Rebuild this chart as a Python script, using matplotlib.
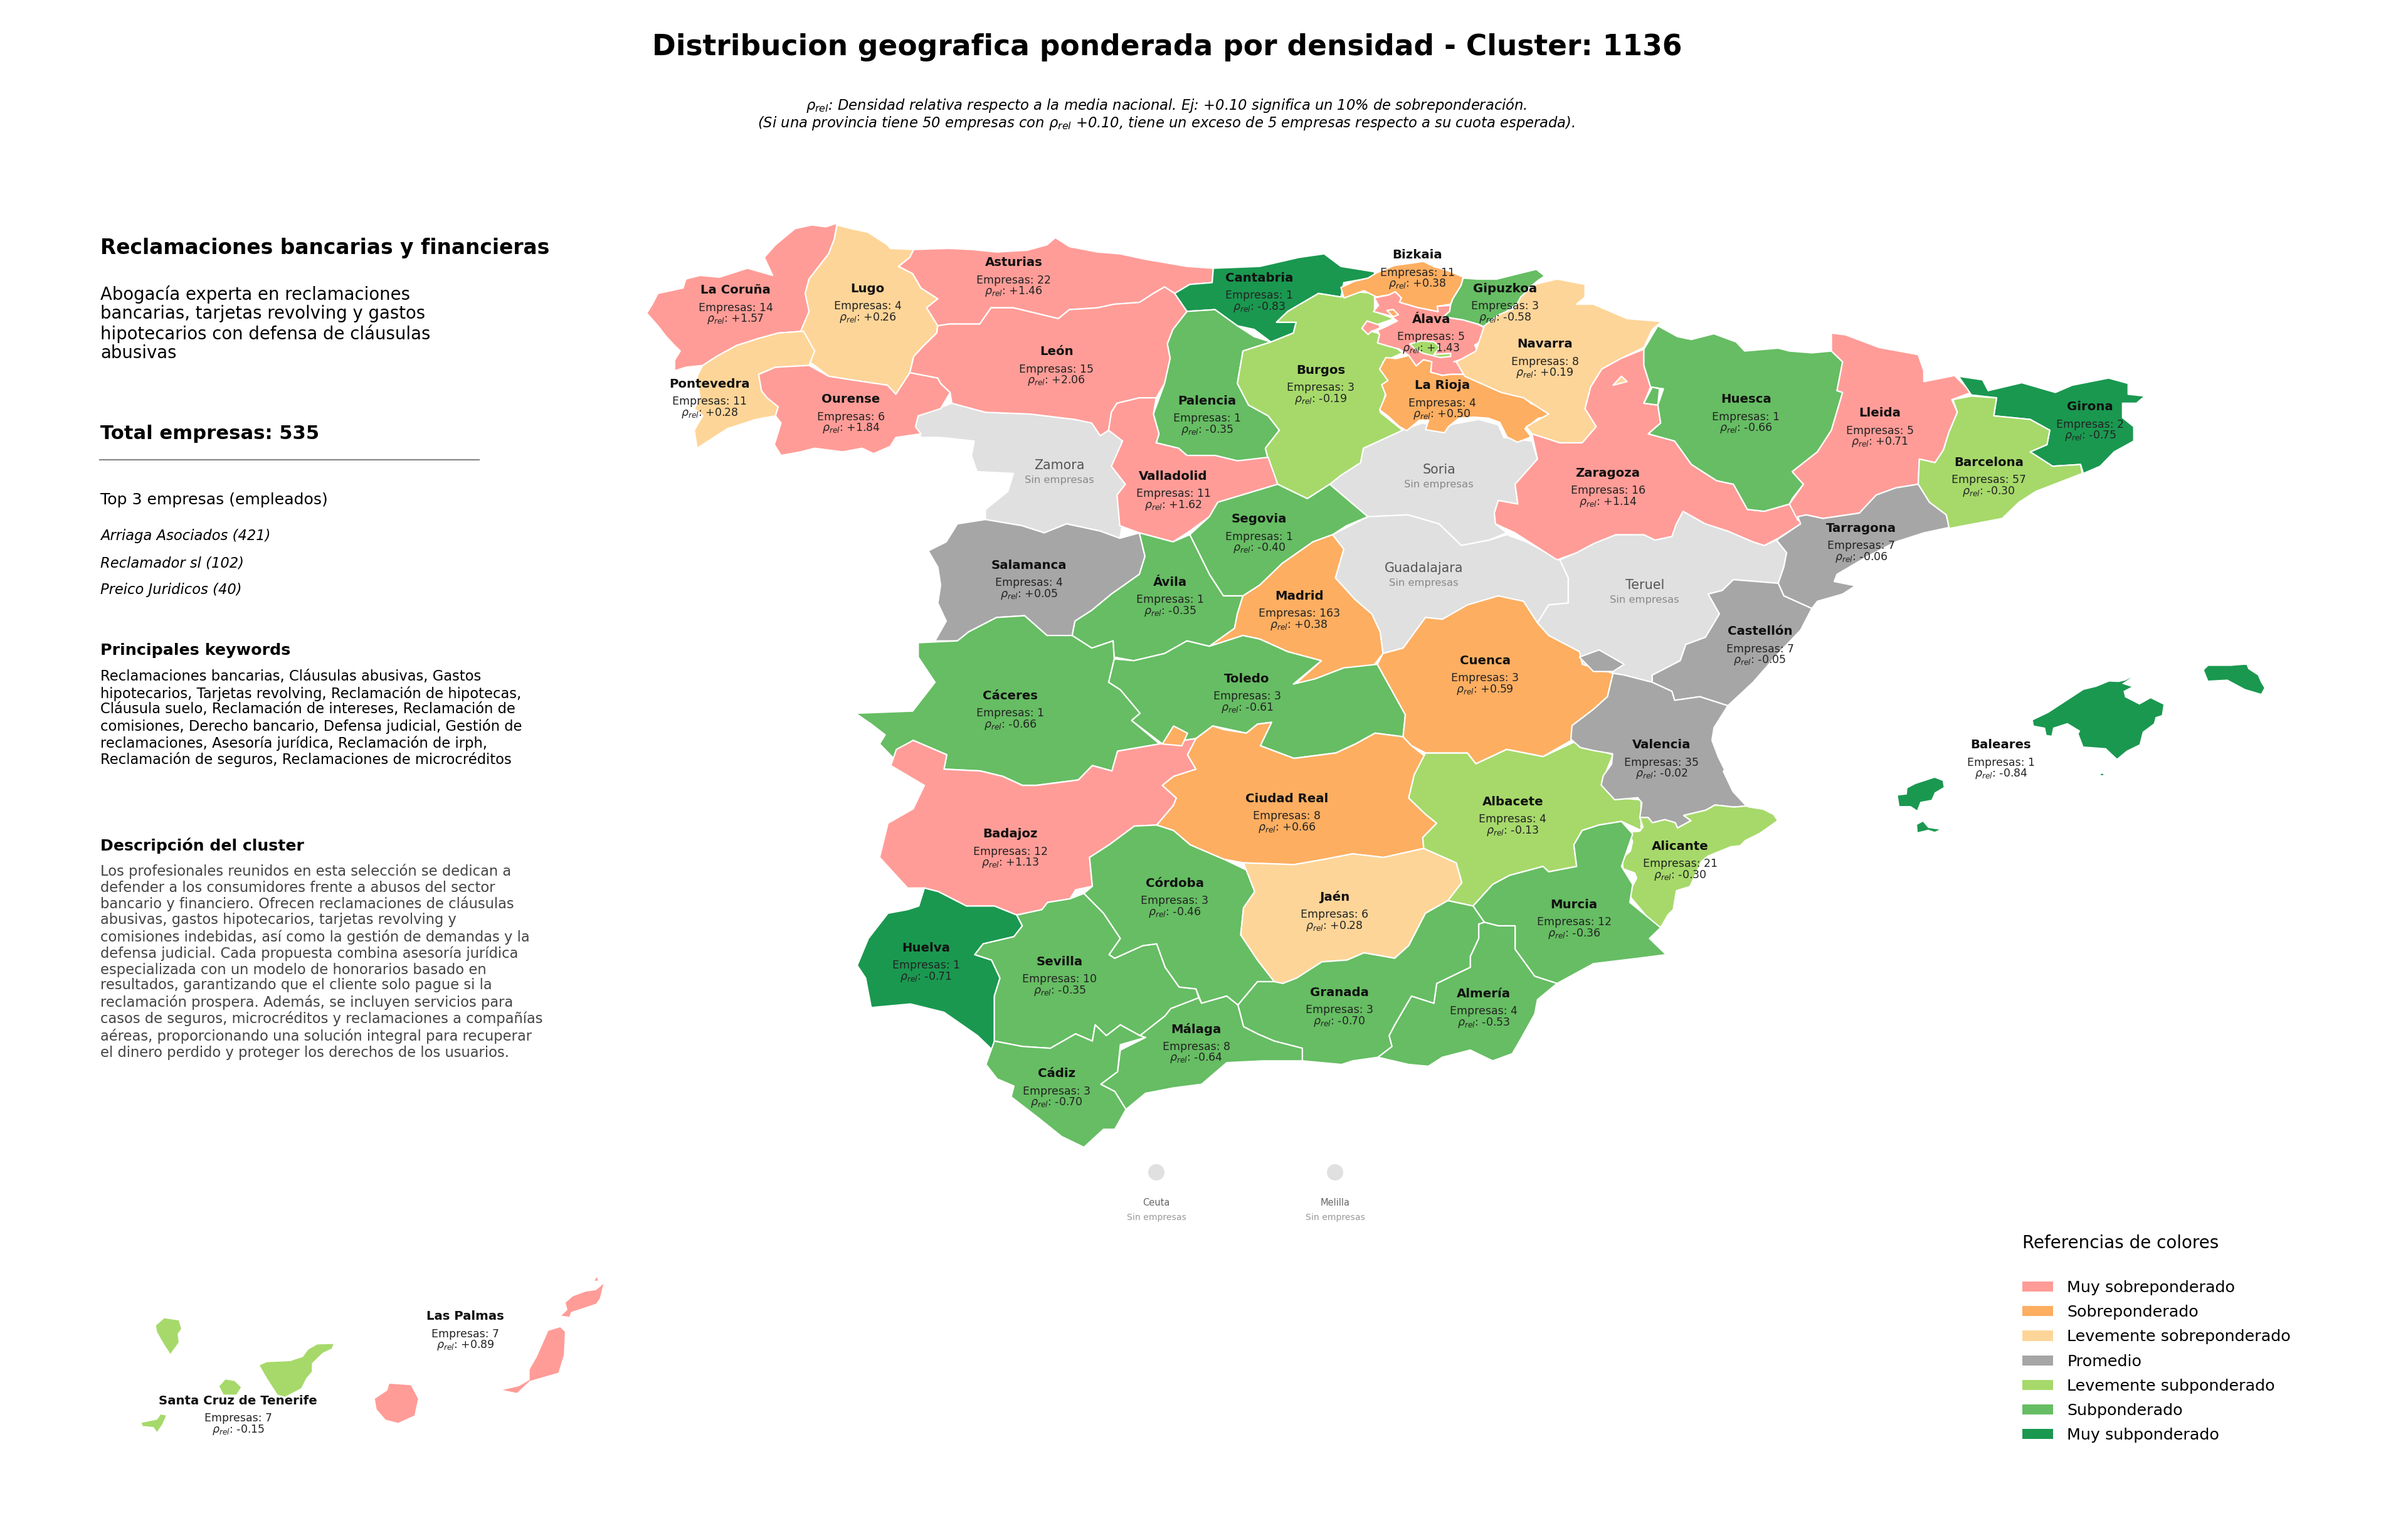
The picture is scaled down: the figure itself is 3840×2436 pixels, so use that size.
import matplotlib
matplotlib.use("Agg")
import matplotlib.pyplot as plt
from matplotlib.patches import Polygon, Patch, Circle

# ---- frames used to read outlines off the picture (to full-image pixels)
def A(p): return [(1000 + x / 1.12, 330 + y / 1.742) for x, y in p]
def B(p): return [(2300 + x / 1.12, 330 + y / 1.742) for x, y in p]
def C(p): return [(1300 + x / 1.12, 1100 + y / 1.742) for x, y in p]
def D(p): return [(2950 + x / 1.96, 1000 + y / 3) for x, y in p]
def E(p): return [(150 + x / 1.742, 2000 + y / 3) for x, y in p]
def F(p): return [(2500 + x / 3, 1130 + y / 3) for x, y in p]
def G(p): return [(2100 + x / 3, 380 + y / 3) for x, y in p]

# ---- colours
CATEGORY_LABELS = ["Muy sobreponderado", "Sobreponderado", "Levemente sobreponderado", "Promedio",
                   "Levemente subponderado", "Subponderado", "Muy subponderado"]
CATEGORY_COLORS = ["#ff9c97", "#fdae61", "#fed598", "#a6a6a6", "#a6d96a", "#66bd63", "#1a9850"]
NO_DATA_COLOR = "#e0e0e0"

# ---- province table
NAMES = ["La Coruña", "Lugo", "Asturias", "Cantabria", "Bizkaia", "Gipuzkoa", "Álava", "Navarra", "León", "Burgos",
         "La Rioja", "Pontevedra", "Ourense", "Palencia", "Huesca", "Girona", "Lleida", "Barcelona", "Zaragoza",
         "Valladolid", "Segovia", "Tarragona", "Salamanca", "Ávila", "Madrid", "Castellón", "Toledo", "Cuenca",
         "Cáceres", "Valencia", "Baleares", "Ciudad Real", "Albacete", "Badajoz", "Alicante", "Córdoba", "Jaén",
         "Murcia", "Huelva", "Sevilla", "Granada", "Almería", "Málaga", "Cádiz", "Las Palmas",
         "Santa Cruz de Tenerife"]
EMPRESAS = [14, 4, 22, 1, 11, 3, 5, 8, 15, 3, 4, 11, 6, 1, 1, 2, 5, 57, 16, 11, 1, 7, 4, 1, 163, 7, 3, 3, 1, 35, 1, 8,
            4, 12, 21, 3, 6, 12, 1, 10, 3, 4, 8, 3, 7, 7]
RHO = [1.57, 0.26, 1.46, -0.83, 0.38, -0.58, 1.43, 0.19, 2.06, -0.19, 0.50, 0.28, 1.84, -0.35, -0.66, -0.75, 0.71,
       -0.30, 1.14, 1.62, -0.40, -0.06, 0.05, -0.35, 0.38, -0.05, -0.61, 0.59, -0.66, -0.02, -0.84, 0.66, -0.13, 1.13,
       -0.30, -0.46, 0.28, -0.36, -0.71, -0.35, -0.70, -0.53, -0.64, -0.70, 0.89, -0.15]
CATEGORY = [0, 2, 0, 6, 1, 5, 0, 2, 0, 4, 1, 2, 0, 5, 5, 6, 0, 4, 0, 0, 5, 3, 3, 5, 1, 3, 5, 1, 5, 3, 6, 1, 4, 0, 4, 5,
            2, 5, 6, 5, 5, 5, 5, 5, 0, 4]
LABEL_X = [479, 565, 660, 820, 923, 980, 932, 1006, 688, 860, 939, 462, 554, 786, 1137, 1361, 1224, 1295, 1047, 764,
           820, 1212, 670, 762, 846, 1146, 812, 967, 658, 1082, 1303, 838, 985, 658, 1094, 765, 869, 1025, 603, 690,
           872, 966, 779, 688, 303, 155]
LABEL_Y = [189, 188, 171, 181, 166, 188, 208, 224, 229, 241, 251, 250, 260, 261, 260, 265, 269, 301, 308, 310, 338, 344,
           368, 379, 388, 411, 442, 430, 453, 485, 485, 520, 522, 543, 551, 575, 584, 589, 617, 626, 646, 647, 670, 699,
           857, 912]

EMPTY_NAMES = ["Zamora", "Soria", "Guadalajara", "Teruel"]
EMPTY_X = [690, 937, 927, 1071]
EMPTY_Y = [303, 306, 370, 381]
CITY_NAMES = ["Ceuta", "Melilla"]
CITY_X = [1844, 2129]

# ---- outlines
OUT = {}
OUT["Zamora"] = A([(580,545),(640,570),(720,575),(800,590),(830,600),(845,635),(860,620),(885,630),(880,700),(865,720),(890,770),(875,800),(885,880),(880,920),(845,900),(785,880),(745,905),(705,885),(640,868),(640,840),(680,790),(690,740),(625,735),(615,690),(620,650),(560,640),(525,640),(515,610),(520,580)])
OUT["Soria"] = A([(1255,770),(1275,745),(1310,710),(1315,670),(1385,620),(1420,600),(1450,610),(1521,590),(1556,605),(1566,640),(1616,650),(1626,700),(1586,770),(1591,825),(1556,815),(1549,850),(1551,880),(1571,905),(1540,925),(1490,940),(1450,880),(1395,855),(1323,860),(1285,810)])
OUT["Guadalajara"] = A([(1260,910),(1323,860),(1395,855),(1450,880),(1490,940),(1540,925),(1571,910),(1606,930),(1666,980),(1681,1030),(1681,1100),(1646,1105),(1626,1155),(1601,1095),(1556,1105),(1501,1145),(1456,1145),(1426,1140),(1386,1225),(1350,1240),(1345,1180),(1330,1130),(1300,1090),(1265,1030),(1280,950)])
OUT["Teruel"] = B([(210,980),(240,960),(270,935),(310,910),(360,910),(380,925),(410,915),(418,880),(430,845),(470,880),(510,900),(555,930),(575,940),(597,925),(615,960),(610,1000),(600,1045),(520,1035),(500,1065),(475,1075),(495,1130),(470,1195),(435,1215),(425,1260),(375,1300),(375,1320),(325,1300),(305,1295),(250,1270),(245,1235),(190,1190),(170,1155),(190,1105),(225,1100),(225,1030)])
OUT["La Coruña"] = A([(375,45),(370,90),(360,130),(345,160),(325,200),(320,240),(325,290),(315,345),(270,350),(235,365),(195,385),(160,415),(135,440),(105,445),(85,455),(85,425),(95,400),(85,385),(70,360),(55,330),(35,295),(45,270),(55,240),(100,225),(105,200),(130,190),(165,195),(215,170),(260,190),(245,140),(265,105),(300,60),(330,50),(355,55)])
OUT["Lugo"] = A([(375,50),(400,60),(430,70),(465,105),(470,115),(512,118),(505,140),(485,165),(510,185),(525,225),(555,255),(535,280),(555,320),(553,350),(530,385),(512,415),(505,460),(480,520),(465,495),(400,480),(360,470),(335,440),(325,430),(335,400),(315,370),(310,345),(325,290),(318,240),(325,200),(345,160),(360,130),(370,90)])
OUT["Pontevedra"] = A([(135,440),(160,415),(195,385),(235,365),(270,350),(315,345),(335,400),(325,440),(265,445),(235,465),(245,510),(270,555),(265,580),(230,590),(180,615),(125,670),(120,620),(135,580),(120,560),(130,530),(125,470)])
OUT["Ourense"] = A([(235,465),(265,445),(325,440),(360,470),(400,480),(465,495),(480,520),(505,460),(555,475),(560,490),(577,515),(560,560),(520,580),(515,610),(525,630),(480,640),(470,665),(440,685),(420,670),(385,680),(335,670),(310,680),(275,690),(263,660),(275,600),(265,580),(270,555),(250,530),(240,510)])
OUT["Asturias"] = A([(512,118),(575,115),(615,118),(660,125),(715,120),(750,105),(765,85),(790,110),(840,125),(880,130),(925,145),(1000,165),(1047,170),(1045,210),(1005,215),(978,240),(960,222),(940,240),(915,265),(870,270),(840,280),(790,285),(770,310),(730,295),(690,280),(650,280),(630,325),(575,325),(555,330),(535,280),(555,255),(525,225),(510,185),(485,165),(505,140)])
OUT["León"] = A([(555,330),(575,325),(630,325),(650,280),(690,280),(730,295),(770,310),(790,285),(840,280),(870,270),(915,265),(940,240),(960,222),(978,240),(1000,290),(975,340),(965,380),(970,420),(960,490),(945,530),(915,530),(875,545),(865,570),(860,620),(845,635),(830,600),(800,590),(720,575),(640,570),(580,545),(577,515),(560,490),(555,475),(505,460),(512,415),(530,385),(553,350)])
OUT["Salamanca"] = A([(640,868),(705,885),(745,905),(785,880),(845,900),(880,920),(915,905),(925,970),(915,1020),(865,1075),(830,1120),(800,1150),(795,1190),(750,1190),(710,1135),(660,1140),(610,1180),(590,1205),(550,1205),(570,1150),(555,1100),(560,1050),(555,1000),(538,955),(570,930),(590,880)])
OUT["Cantabria"] = A([(1047,170),(1130,165),(1200,140),(1245,130),(1275,165),(1335,180),(1335,195),(1280,210),(1275,250),(1235,240),(1180,290),(1160,320),(1195,320),(1190,350),(1150,375),(1120,340),(1090,330),(1050,285),(1000,290),(978,240),(1005,215),(1045,210)])
OUT["Palencia"] = A([(1000,290),(1050,285),(1090,330),(1120,360),(1150,375),(1100,400),(1090,490),(1110,550),(1145,580),(1165,620),(1140,670),(1145,700),(1090,705),(1050,690),(1000,690),(985,670),(945,655),(950,630),(940,575),(960,490),(970,420),(965,380),(975,340)])
OUT["Burgos"] = A([(1275,250),(1235,240),(1180,290),(1160,320),(1195,320),(1190,350),(1150,375),(1100,400),(1090,490),(1110,550),(1145,580),(1165,620),(1140,670),(1145,700),(1150,740),(1162,770),(1215,810),(1255,770),(1275,745),(1310,710),(1315,670),(1385,620),(1345,570),(1360,490),(1350,430),(1385,405),(1365,380),(1340,350),(1315,340),(1370,310),(1335,290),(1335,240),(1300,235)])
OUT["Valladolid"] = A([(875,545),(915,530),(945,530),(940,575),(950,630),(945,655),(985,670),(1000,690),(1050,690),(1090,705),(1145,695),(1162,770),(1055,820),(1040,860),(1005,900),(975,930),(915,905),(880,885),(875,800),(890,770),(865,720),(885,650),(860,620),(865,570)])
OUT["Segovia"] = A([(1162,770),(1215,810),(1255,770),(1285,810),(1323,860),(1285,885),(1260,910),(1225,930),(1170,990),(1130,1050),(1100,1080),(1065,1080),(1040,1020),(1005,910),(1040,860),(1055,820)])
OUT["Ávila"] = A([(915,905),(975,930),(1005,910),(1040,1020),(1065,1080),(1100,1080),(1090,1130),(1085,1170),(1040,1220),(1000,1205),(960,1240),(905,1260),(870,1250),(868,1205),(830,1225),(795,1190),(800,1150),(830,1120),(865,1075),(915,1020),(925,970)])
OUT["Madrid"] = A([(1260,910),(1280,950),(1265,1030),(1300,1090),(1330,1130),(1345,1180),(1350,1240),(1330,1280),(1280,1280),(1230,1310),(1190,1330),(1240,1260),(1180,1235),(1130,1200),(1100,1190),(1040,1220),(1085,1170),(1090,1130),(1100,1080),(1130,1050),(1170,990),(1225,930)])
OUT["Toledo"] = A([(870,1255),(905,1260),(960,1240),(1000,1205),(1040,1220),(1100,1190),(1130,1200),(1180,1235),(1240,1260),(1190,1325),(1230,1310),(1280,1280),(1340,1270),(1390,1410),(1386,1471),(1336,1461),(1301,1491),(1266,1516),(1191,1531),(1131,1496),(1151,1431),(1126,1436),(1106,1461),(1046,1441),(1016,1476),(956,1491),(901,1426),(916,1406),(881,1341),(860,1320)])
OUT["Cáceres"] = A([(520,1210),(590,1205),(610,1180),(660,1140),(710,1135),(750,1190),(795,1190),(830,1225),(868,1205),(870,1255),(860,1320),(881,1341),(916,1406),(901,1426),(951,1491),(876,1511),(866,1566),(831,1551),(806,1591),(731,1606),(706,1606),(671,1581),(631,1566),(566,1561),(571,1521),(511,1481),(501,1496),(476,1531),(451,1491),(461,1466),(436,1436),(408,1406),(510,1400),(550,1320),(520,1250)])
OUT["Badajoz"] = C([(175,140),(235,180),(230,220),(295,225),(335,240),(370,265),(395,265),(470,250),(495,210),(530,225),(540,170),(615,150),(680,135),(665,180),(680,220),(640,240),(620,265),(645,300),(640,320),(610,375),(570,378),(525,430),(490,465),(495,545),(465,555),(455,580),(415,590),(405,610),(360,625),(320,600),(270,600),(220,560),(195,550),(165,550),(115,465),(130,370),(175,330),(195,265),(135,210),(145,165)])
OUT["Huelva"] = C([(195,550),(220,560),(270,600),(320,600),(360,625),(370,655),(355,685),(300,705),(285,735),(315,750),(330,800),(320,850),(320,960),(320,1005),(290,960),(230,895),(170,872),(100,882),(90,800),(75,765),(95,690),(130,620),(165,610),(185,600)])
OUT["Sevilla"] = C([(360,625),(405,610),(415,590),(455,580),(480,565),(515,620),(545,690),(525,735),(535,745),(585,710),(610,705),(625,770),(650,825),(680,830),(685,855),(635,885),(625,905),(580,960),(545,930),(520,960),(500,930),(495,975),(465,955),(420,995),(370,990),(320,975),(320,850),(330,800),(315,750),(285,735),(300,705),(355,685),(370,655)])
OUT["Córdoba"] = C([(610,375),(640,390),(670,430),(730,470),(770,500),(785,560),(765,605),(760,680),(790,750),(820,810),(790,810),(755,875),(735,850),(690,870),(680,830),(650,825),(625,770),(610,705),(585,710),(535,745),(525,735),(545,690),(515,620),(480,565),(495,545),(490,465),(525,430),(570,378)])
OUT["Ciudad Real"] = C([(680,135),(710,100),(730,110),(770,120),(790,95),(815,90),(795,155),(855,190),(930,175),(965,150),(1000,120),(1050,130),(1065,155),(1090,185),(1070,235),(1060,300),(1090,345),(1110,370),(1085,410),(1087,440),(1015,465),(960,455),(910,470),(855,485),(765,480),(730,470),(670,430),(640,390),(610,375),(640,320),(645,300),(620,265),(640,240),(680,220),(665,180)])
OUT["Jaén"] = C([(765,480),(855,485),(910,470),(960,455),(1015,465),(1087,440),(1145,480),(1155,535),(1130,585),(1090,620),(1060,710),(1035,745),(980,730),(950,750),(905,755),(860,800),(835,815),(820,810),(790,750),(760,680),(765,605),(785,560),(770,500)])
OUT["Albacete"] = C([(1090,175),(1165,175),(1180,205),(1235,165),(1300,185),(1355,145),(1425,180),(1405,255),(1435,300),(1475,305),(1475,390),(1440,365),(1400,375),(1370,390),(1355,430),(1360,490),(1310,505),(1300,490),(1240,515),(1210,540),(1175,600),(1130,585),(1155,535),(1145,480),(1087,440),(1085,410),(1110,370),(1090,345),(1060,300),(1070,235)])
OUT["Cuenca"] = B([(-106,1240),(-70,1225),(-30,1140),(0,1145),(45,1105),(100,1080),(145,1095),(170,1155),(190,1190),(245,1235),(250,1270),(305,1295),(295,1360),(270,1395),(232,1440),(232,1480),(180,1526),(115,1506),(60,1546),(45,1516),(-30,1516),(-55,1496),(-70,1471),(-66,1410),(-116,1270)])
OUT["La Rioja"] = G([(330,570),(380,575),(440,560),(475,610),(510,580),(550,590),(545,640),(600,655),(640,650),(710,650),(760,680),(860,705),(895,735),(950,730),(1025,790),(1110,825),(1120,850),(1060,860),(995,910),(1025,950),(960,975),(910,950),(875,880),(820,860),(750,855),(680,860),(630,900),(610,930),(520,915),(535,870),(490,870),(430,920),(395,900),(340,850),(300,820),(330,750),(310,700),(340,680),(300,625)])
OUT["Álava"] = G([(275,285),(345,270),(375,255),(405,285),(395,305),(480,330),(580,350),(575,325),(640,320),(635,350),(605,375),(700,390),(770,410),(805,430),(790,490),(755,510),(775,560),(720,570),(655,590),(715,595),(710,650),(640,650),(600,655),(545,640),(550,590),(510,580),(475,610),(440,560),(395,530),(340,515),(290,500),(300,460),(290,440),(335,420),(385,395),(350,370),(270,350),(295,320)])
OUT["Bizkaia"] = G([(115,235),(180,205),(245,190),(285,165),(370,130),(440,120),(510,110),(560,135),(630,155),(700,185),(690,225),(650,290),(640,315),(575,325),(580,350),(480,330),(395,305),(405,285),(375,255),(345,270),(285,280),(225,250),(130,285)])
OUT["Gipuzkoa"] = G([(700,190),(770,195),(860,195),(960,170),(1050,148),(1090,180),(1060,200),(1005,245),(985,295),(920,340),(880,370),(805,425),(770,410),(700,390),(605,375),(635,350),(640,318),(650,290),(690,225)])
OUT["Navarra"] = B([(165,215),(205,200),(255,215),(255,250),(240,270),(270,270),(330,310),(392,318),(375,340),(360,390),(320,420),(285,450),(265,500),(255,560),(275,610),(250,655),(210,655),(160,630),(150,610),(190,575),(145,530),(105,515),(40,470),(25,430),(60,400),(75,330),(100,300),(130,280),(140,250)])
OUT["Zaragoza"] = B([(360,395),(360,440),(372,500),(360,545),(385,550),(390,600),(368,630),(415,650),(445,715),(490,760),(520,770),(545,840),(575,845),(620,825),(635,860),(640,880),(600,920),(575,940),(555,930),(510,900),(470,880),(430,845),(418,880),(410,915),(380,925),(360,910),(310,910),(270,935),(240,960),(205,980),(165,940),(130,905),(95,880),(93,850),(100,815),(135,825),(130,770),(170,700),(160,630),(210,655),(250,655),(275,610),(255,560),(265,500),(285,450),(320,420)])
OUT["Huesca"] = B([(385,330),(420,360),(445,368),(485,352),(525,375),(540,400),(600,392),(620,400),(660,405),(695,400),(715,430),(705,510),(715,515),(695,620),(670,680),(625,735),(645,770),(625,810),(620,825),(575,845),(545,840),(520,770),(490,760),(445,715),(415,650),(368,630),(390,600),(385,550),(395,505),(372,500),(360,440),(360,395)])
OUT["Lleida"] = B([(695,350),(720,355),(780,390),(815,400),(850,410),(860,455),(860,485),(915,468),(945,515),(910,535),(920,570),(905,625),(895,675),(880,710),(852,700),(850,770),(810,780),(775,800),(745,850),(680,865),(650,855),(635,870),(620,825),(645,770),(625,735),(670,680),(695,620),(715,515),(705,510),(715,430),(695,400)])
OUT["Girona"] = B([(922,470),(965,480),(975,510),(1035,488),(1095,515),(1125,495),(1190,475),(1225,490),(1225,520),(1255,525),(1240,545),(1215,545),(1215,585),(1235,610),(1235,650),(1200,680),(1175,720),(1145,740),(1140,715),(1090,720),(1050,680),(1080,660),(1085,620),(1050,590),(985,580),(990,530),(945,522)])
OUT["Barcelona"] = B([(912,535),(945,525),(990,530),(985,580),(1050,590),(1085,620),(1080,660),(1050,680),(1090,720),(1140,715),(1143,740),(1060,790),(1030,820),(1000,865),(905,893),(900,855),(870,820),(850,770),(852,700),(880,710),(895,675),(905,625),(920,570)])
OUT["Tarragona"] = B([(850,770),(870,820),(900,855),(905,890),(860,905),(810,930),(760,970),(705,1020),(700,1040),(738,1052),(715,1075),(670,1095),(660,1115),(610,1080),(600,1045),(610,1000),(615,960),(597,925),(640,880),(635,860),(650,855),(680,865),(745,850),(775,800),(810,780)])
OUT["Castellón"] = B([(520,1035),(600,1045),(610,1080),(660,1115),(640,1175),(600,1240),(555,1320),(510,1385),(460,1360),(415,1370),(410,1345),(375,1320),(375,1300),(425,1260),(435,1215),(470,1195),(495,1130),(475,1075),(500,1065)])
OUT["Valencia"] = B([(305,1295),(325,1300),(375,1320),(410,1345),(415,1370),(460,1360),(510,1385)]) + F([(700,90),(690,150),(720,230),(750,290),(745,300),(790,395),(855,465),(795,470),(705,460),(660,485),(555,510),(590,535),(525,570),(515,545),(465,530),(405,545),(385,520),(345,520),(355,450),(335,425),(225,435),(160,365),(170,320),(210,265),(215,215),(125,200),(60,185),(15,145),(20,90)]) + B([(232,1440),(270,1395),(295,1360)])
OUT["Alicante"] = F([(345,520),(385,520),(405,545),(465,530),(515,545),(525,570),(590,535),(555,510),(660,485),(705,460),(795,470),(855,465),(870,470),(935,480),(985,505),(1005,535),(920,595),(850,630),(825,655),(780,660),(670,705),(640,730),(585,850),(520,870),(505,960),(480,985),(445,1045),(405,1025),(300,900),(290,885),(330,810),(320,785),(265,765),(260,715),(300,680),(310,635),(295,590),(345,585),(360,565)])
OUT["Murcia"] = C([(1360,490),(1355,430),(1370,390),(1400,375),(1440,365),(1460,400),(1440,490),(1460,540),(1455,590),(1510,660),(1490,690),(1520,735),(1470,745),(1390,760),(1325,815),(1285,795),(1250,720),(1250,655),(1220,655),(1195,645),(1175,600),(1210,540),(1240,515),(1300,490),(1310,505)])
OUT["Almería"] = C([(1195,645),(1220,655),(1250,655),(1250,720),(1285,795),(1325,815),(1290,860),(1285,900),(1260,970),(1245,1010),(1210,1030),(1170,1000),(1120,1020),(1095,1045),(1060,1040),(1005,1020),(1030,990),(1025,960),(1035,930),(1065,850),(1105,870),(1110,815),(1170,770),(1170,740),(1185,690),(1185,650)])
OUT["Granada"] = C([(1130,585),(1175,600),(1195,645),(1185,650),(1185,690),(1170,740),(1170,770),(1110,815),(1105,870),(1065,850),(1035,930),(1025,960),(1030,990),(1005,1020),(960,1030),(940,1040),(870,1030),(870,995),(820,975),(790,955),(765,935),(755,875),(790,810),(820,810),(835,815),(860,800),(905,755),(950,750),(980,730),(1035,745),(1060,710),(1090,620)])
OUT["Málaga"] = C([(755,875),(765,935),(790,955),(820,975),(870,995),(870,1030),(800,1030),(735,1035),(690,1095),(640,1105),(590,1120),(555,1165),(535,1115),(510,1095),(540,1060),(545,1000),(590,965),(580,960),(625,905),(635,885),(685,855),(690,870),(735,850)])
OUT["Cádiz"] = C([(320,975),(370,990),(420,995),(465,955),(495,975),(500,930),(520,960),(545,930),(580,960),(590,965),(545,985),(540,1060),(510,1095),(535,1115),(555,1165),(535,1220),(515,1220),(480,1270),(440,1240),(400,1190),(350,1130),(355,1100),(325,1080),(305,1040)])

# pieces belonging to a province, drawn after everything else
EXTRA = [
    ("Ciudad Real", C([(640,100),(665,120),(655,155),(620,150)])),
    ("Burgos", G([(445,505),(500,490),(560,495),(590,520),(560,555),(640,550),(640,565),(590,570),(510,550),(470,530)])),
    ("Álava", G([(215,430),(240,395),(300,415),(300,430),(260,445),(245,460)])),
    ("Bizkaia", G([(335,345),(365,340),(390,365),(365,375)])),
    ("Valencia", B([(245,1250),(280,1230),(325,1270),(305,1290),(270,1290)])),
    ("Navarra", B([(305,495),(320,470),(330,485)])),
    ("Huesca", B([(360,545),(375,500),(388,505),(385,550)])),
]

ISLANDS = {
    "Baleares": [
        D([(572,445),(620,410),(650,380),(690,340),(730,300),(770,285),(810,260),(840,262),(860,255),(880,240),(850,270),(880,285),(855,305),(860,335),(905,370),(940,340),(980,370),(975,420),(955,430),(950,460),(915,500),(905,560),(865,590),(835,628),(800,578),(730,570),(715,510),(720,495),(680,458),(635,480),(630,518),(615,515),(610,480),(575,470)]),
        D([(1107,205),(1120,185),(1150,185),(1190,185),(1230,180),(1240,180),(1245,200),(1275,230),(1285,265),(1295,290),(1285,318),(1235,295),(1180,250),(1120,255)]),
        D([(150,805),(178,800),(180,770),(205,750),(235,735),(265,720),(290,735),(293,765),(265,790),(255,825),(220,835),(210,875),(190,855),(155,855)]),
        D([(210,945),(228,930),(245,960),(280,968),(265,978),(245,968),(212,980)]),
        D([(783,703),(790,700),(793,706),(786,708)]),
    ],
    "Santa Cruz de Tenerife": [
        E([(172,340),(195,305),(235,315),(242,355),(232,380),(235,420),(212,475),(195,430),(175,370)]),
        E([(348,630),(365,598),(390,605),(408,635),(395,670),(360,670)]),
        E([(460,530),(480,515),(545,510),(580,490),(595,455),(620,430),(665,428),(660,450),(635,470),(605,520),(605,560),(590,590),(575,640),(530,680),(510,670),(480,590)]),
        E([(132,805),(175,790),(185,765),(200,770),(190,810),(175,848),(165,825),(135,820)]),
    ],
    "Las Palmas": [
        E([(780,690),(815,650),(820,618),(880,625),(900,690),(890,770),(845,805),(810,790),(785,740)]),
        E([(1135,648),(1180,630),(1210,600),(1210,550),(1230,490),(1262,365),(1295,348),(1308,370),(1305,480),(1290,565),(1210,605),(1175,662)]),
        E([(1298,292),(1315,265),(1310,230),(1330,200),(1365,178),(1395,170),(1415,140),(1405,210),(1395,235),(1325,275),(1320,298)]),
        E([(1390,125),(1397,108),(1400,125)]),
    ],
}

# ---- text blocks
TITLE = "Distribucion geografica ponderada por densidad - Cluster: 1136"
SUBTITLE = [r"$\rho_{rel}$: Densidad relativa respecto a la media nacional. Ej: +0.10 significa un 10% de sobreponderación.",
            r"(Si una provincia tiene 50 empresas con $\rho_{rel}$ +0.10, tiene un exceso de 5 empresas respecto a su cuota esperada)."]
HEAD = "Reclamaciones bancarias y financieras"
TAGLINE = ["Abogacía experta en reclamaciones", "bancarias, tarjetas revolving y gastos",
           "hipotecarios con defensa de cláusulas", "abusivas"]
TAGLINE_Y = [469, 500, 532, 563]
TOTAL = "Total empresas: 535"
TOP_HEAD = "Top 3 empresas (empleados)"
TOP = ["Arriaga Asociados (421)", "Reclamador sl (102)", "Preico Juridicos (40)"]
TOP_Y = [855, 898, 940]
KW_HEAD = "Principales keywords"
KW = ["Reclamaciones bancarias, Cláusulas abusivas, Gastos",
      "hipotecarios, Tarjetas revolving, Reclamación de hipotecas,",
      "Cláusula suelo, Reclamación de intereses, Reclamación de",
      "comisiones, Derecho bancario, Defensa judicial, Gestión de",
      "reclamaciones, Asesoría jurídica, Reclamación de irph,",
      "Reclamación de seguros, Reclamaciones de microcréditos"]
KW_Y = [1079, 1106, 1131, 1158, 1185, 1211]
DESC_HEAD = "Descripción del cluster"
DESC = ["Los profesionales reunidos en esta selección se dedican a",
        "defender a los consumidores frente a abusos del sector",
        "bancario y financiero. Ofrecen reclamaciones de cláusulas",
        "abusivas, gastos hipotecarios, tarjetas revolving y",
        "comisiones indebidas, así como la gestión de demandas y la",
        "defensa judicial. Cada propuesta combina asesoría jurídica",
        "especializada con un modelo de honorarios basado en",
        "resultados, garantizando que el cliente solo pague si la",
        "reclamación prospera. Además, se incluyen servicios para",
        "casos de seguros, microcréditos y reclamaciones a compañías",
        "aéreas, proporcionando una solución integral para recuperar",
        "el dinero perdido y proteger los derechos de los usuarios."]
DESC_Y = [1389, 1415, 1441, 1467, 1494, 1520, 1546, 1571, 1598, 1624, 1652, 1678]

plt.rcParams["font.family"] = "DejaVu Sans"
plt.rcParams["mathtext.fontset"] = "dejavusans"
fig = plt.figure(figsize=(24, 15.225), dpi=160)
ax = fig.add_axes([0, 0, 1, 1])
ax.set_xlim(0, 3840)
ax.set_ylim(2436, 0)
ax.axis("off")

color_of = {n: CATEGORY_COLORS[c] for n, c in zip(NAMES, CATEGORY)}
for n in EMPTY_NAMES:
    color_of[n] = NO_DATA_COLOR
EDGE = dict(edgecolor="white", linewidth=1.0, joinstyle="round")
for n, pts in OUT.items():
    ax.add_patch(Polygon(pts, closed=True, facecolor=color_of[n], **EDGE))
for n, pts in EXTRA:
    ax.add_patch(Polygon(pts, closed=True, facecolor=color_of[n], **EDGE))
for n, parts in ISLANDS.items():
    for pts in parts:
        ax.add_patch(Polygon(pts, closed=True, facecolor=color_of[n], edgecolor="none"))
for x in CITY_X:
    ax.add_patch(Circle((x, 1869), 13, facecolor=NO_DATA_COLOR, edgecolor="none"))

S = 3840 / 1568
C_ = dict(ha="center", va="center")
for n, e, r, x, y in zip(NAMES, EMPRESAS, RHO, LABEL_X, LABEL_Y):
    X, Y = x * S, y * S
    ax.text(X, Y, n, fontsize=8.9, fontweight="bold", color="#111111", **C_)
    ax.text(X, Y + 28, f"Empresas: {e}", fontsize=7.8, color="#222222", **C_)
    ax.text(X, Y + 46, rf"$\rho_{{rel}}$: {r:+.2f}", fontsize=7.8, color="#222222", **C_)
for n, x, y in zip(EMPTY_NAMES, EMPTY_X, EMPTY_Y):
    X, Y = x * S, y * S
    ax.text(X, Y, n, fontsize=9.3, color="#555555", **C_)
    ax.text(X, Y + 23, "Sin empresas", fontsize=7.4, color="#888888", **C_)
for n, x in zip(CITY_NAMES, CITY_X):
    ax.text(x, 1917, n, fontsize=6.6, color="#666666", **C_)
    ax.text(x, 1941, "Sin empresas", fontsize=6.3, color="#999999", **C_)

ax.text(1861, 75, TITLE, fontsize=20.5, fontweight="bold", color="black", **C_)
for s, y in zip(SUBTITLE, [168, 197]):
    ax.text(1860, y, s, fontsize=10.2, fontstyle="italic", color="black", **C_)

L = dict(ha="left", va="center")
X0 = 160
ax.text(X0, 395, HEAD, fontsize=14.8, fontweight="bold", color="black", **L)
for s, y in zip(TAGLINE, TAGLINE_Y):
    ax.text(X0, y, s, fontsize=12.4, color="black", **L)
ax.text(X0, 692, TOTAL, fontsize=13.8, fontweight="bold", color="black", **L)
ax.plot([159, 764], [733, 733], color="#888888", linewidth=1.0)
ax.text(X0, 797, TOP_HEAD, fontsize=11.3, color="black", **L)
for s, y in zip(TOP, TOP_Y):
    ax.text(X0, y, s, fontsize=10.2, fontstyle="italic", color="black", **L)
ax.text(X0, 1037, KW_HEAD, fontsize=11.4, fontweight="bold", color="black", **L)
for s, y in zip(KW, KW_Y):
    ax.text(X0, y, s, fontsize=10.2, color="black", **L)
ax.text(X0, 1348, DESC_HEAD, fontsize=11.3, fontweight="bold", color="black", **L)
for s, y in zip(DESC, DESC_Y):
    ax.text(X0, y, s, fontsize=10.2, color="#444444", **L)

ax.text(3225, 1982, "Referencias de colores", fontsize=12.5, color="black", **L)
handles = [Patch(facecolor=c, edgecolor="none", label=l) for c, l in zip(CATEGORY_COLORS, CATEGORY_LABELS)]
ax.legend(handles=handles, loc="upper left", bbox_to_anchor=(3225 / 3840, 1 - 2041 / 2436), frameon=False,
          fontsize=11.4, handlelength=1.94, handleheight=0.6, handletextpad=0.87, labelspacing=0.6, borderpad=0,
          borderaxespad=0)

fig.savefig("out.png", dpi=160, facecolor="white")
